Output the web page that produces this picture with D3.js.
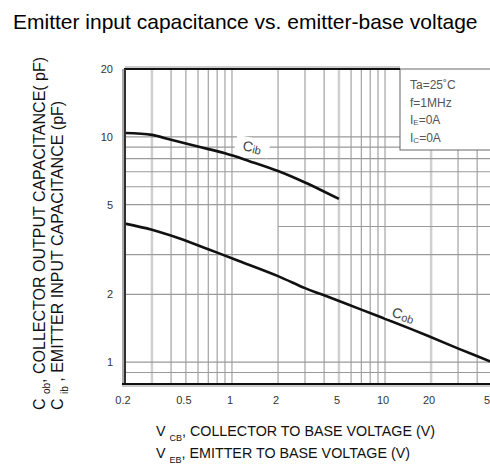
<!DOCTYPE html>
<html><head><meta charset="utf-8">
<script src="https://cdn.jsdelivr.net/npm/d3@7"></script>
<style>
body{margin:0;background:#fff}
svg{display:block}
text{font-family:"Liberation Sans",Arial,Helvetica,sans-serif}
</style>
</head><body>
<svg id="chart" width="490" height="465"></svg>
<script>
// ---- data ----
const cibV = [0.2, 0.3, 0.4, 0.6, 0.9, 1.3, 2, 3, 5];
const cibC = [10.4, 10.2, 9.7, 9.05, 8.45, 7.8, 7.05, 6.27, 5.3];
const cobV = [0.2, 0.3, 0.45, 0.7, 1.1, 2, 3, 4, 7, 11, 19, 31, 50];
const cobC = [4.12, 3.87, 3.55, 3.17, 2.82, 2.41, 2.13, 1.98, 1.71, 1.52, 1.31, 1.14, 1.0];
const xTicks = [0.2, 0.5, 1, 2, 5, 10, 20, 50];
const xTickLabels = ["0.2", "0.5", "1", "2", "5", "10", "20", "50"];
const yTicks = [1, 2, 5, 10, 20];
const yTickLabels = ["1", "2", "5", "10", "20"];
const xGrid = [0.3, 0.4, 0.5, 0.6, 0.7, 0.8, 0.9, 1, 2, 3, 4, 5, 6, 7, 8, 9, 10, 20, 30, 40];
const xGridLight = [0.3, 5, 20];
const yGrid = [0.9, 1, 2, 3, 5, 6, 7, 8, 9, 10];
const yGridFrom2V = [4];
const title = "Emitter input capacitance vs. emitter-base voltage";
const conditions = [["Ta=25˚C", "", ""], ["f=1MHz", "", ""], ["I", "E", "=0A"], ["I", "C", "=0A"]];

const svg = d3.select("#chart");
const x = d3.scaleLog().domain([0.2, 50]).range([125, 492]);
const y = d3.scaleLog().domain([0.8, 20]).range([384, 69]);
const [x0, x1] = x.range();
const [yb, yt] = y.range();

// title
svg.append("text").attr("x", 13).attr("y", 29).attr("font-size", 21).attr("fill", "#000").text(title);

// grid
const g = svg.append("g");
g.selectAll("line.vx").data(xGrid).join("line")
  .attr("x1", d => x(d)).attr("x2", d => x(d)).attr("y1", yt).attr("y2", yb)
  .attr("stroke", d => xGridLight.includes(d) ? "#cfcfcf" : "#9a9a9a")
  .attr("stroke-width", d => xGridLight.includes(d) ? 2.5 : 1.1);
g.selectAll("line.hy").data(yGrid).join("line")
  .attr("x1", x0).attr("x2", 490).attr("y1", d => y(d)).attr("y2", d => y(d))
  .attr("stroke", "#9a9a9a").attr("stroke-width", 1.1);
g.selectAll("line.hy4").data(yGridFrom2V).join("line")
  .attr("x1", x(2)).attr("x2", 490).attr("y1", d => y(d)).attr("y2", d => y(d))
  .attr("stroke", "#9a9a9a").attr("stroke-width", 1.1);

// conditions box
svg.append("rect").attr("x", 400).attr("y", yt).attr("width", 100).attr("height", 81)
  .attr("fill", "#fff").attr("stroke", "#666").attr("stroke-width", 1);
const cond = svg.append("g").attr("font-size", 12).attr("fill", "#555");
conditions.forEach((c, i) => {
  const t = cond.append("text").attr("x", 410).attr("y", 89 + i * 17.5);
  t.append("tspan").text(c[0]);
  if (c[1]) t.append("tspan").attr("font-size", 8).attr("dy", 1).text(c[1]);
  if (c[2]) t.append("tspan").attr("dy", c[1] ? -1 : 0).text(c[2]);
});

// curves
const line = d3.line().x(d => x(d[0])).y(d => y(d[1])).curve(d3.curveCatmullRom.alpha(0.5));
svg.append("path").datum(d3.zip(cibV, cibC)).attr("d", line)
  .attr("fill", "none").attr("stroke", "#111").attr("stroke-width", 2.6);
svg.append("path").datum(d3.zip(cobV, cobC)).attr("d", line)
  .attr("fill", "none").attr("stroke", "#111").attr("stroke-width", 2.6);

// curve labels
function curveLabel(cx, cy, ang, main, sub) {
  const gl = svg.append("g").attr("transform", `translate(${cx},${cy}) rotate(${ang})`);
  gl.append("rect").attr("x", -17).attr("y", -10).attr("width", 34).attr("height", 17).attr("fill", "#fff");
  const t = gl.append("text").attr("text-anchor", "middle").attr("y", 4).attr("font-size", 14).attr("fill", "#444");
  t.append("tspan").text(main);
  t.append("tspan").attr("font-size", 11).attr("dy", 1).text(sub);
}
curveLabel(252, 148, 12, "C", "ib");
curveLabel(403, 316, 18, "C", "ob");

// frame
svg.append("line").attr("x1", x0).attr("x2", 400).attr("y1", yt - 2).attr("y2", yt - 2).attr("stroke", "#ccc").attr("stroke-width", 2);
svg.append("line").attr("x1", x0 - 1).attr("x2", 400).attr("y1", yt).attr("y2", yt).attr("stroke", "#111").attr("stroke-width", 2);
svg.append("line").attr("x1", x0 - 1).attr("x2", x0 - 1).attr("y1", yt).attr("y2", yb + 2).attr("stroke", "#aaa").attr("stroke-width", 4);
svg.append("line").attr("x1", x0).attr("x2", x0).attr("y1", yt).attr("y2", yb).attr("stroke", "#111").attr("stroke-width", 1.6);
svg.append("line").attr("x1", x0 - 3).attr("x2", 490).attr("y1", yb + 2).attr("y2", yb + 2).attr("stroke", "#ccc").attr("stroke-width", 2);
svg.append("line").attr("x1", x0 - 3).attr("x2", 490).attr("y1", yb).attr("y2", yb).attr("stroke", "#111").attr("stroke-width", 2);

// tick labels
svg.append("g").attr("font-size", 11).attr("fill", "#333").attr("text-anchor", "middle")
  .selectAll("text").data(xTicks).join("text")
  .attr("x", d => x(d) - 2).attr("y", 404).text((d, i) => xTickLabels[i]);
svg.append("g").attr("font-size", 11).attr("fill", "#333").attr("text-anchor", "end")
  .selectAll("text").data(yTicks).join("text")
  .attr("x", 113).attr("y", d => y(d) + 4).text((d, i) => yTickLabels[i]);

// x axis titles
function xTitle(yy, sub, rest) {
  const t = svg.append("text").attr("x", 156).attr("y", yy).attr("font-size", 14.3).attr("fill", "#111");
  t.append("tspan").text("V ");
  t.append("tspan").attr("font-size", 9).attr("dy", 5).text(sub);
  t.append("tspan").attr("dy", -5).text(rest);
}
xTitle(436, "CB", ", COLLECTOR TO BASE VOLTAGE (V)");
xTitle(458, "EB", ", EMITTER TO BASE VOLTAGE (V)");

// y axis titles
function yTitle(xx, sub, rest) {
  const t = svg.append("text").attr("transform", `translate(${xx},410) rotate(-90)`).attr("font-size", 16).attr("fill", "#111");
  t.append("tspan").text("C ");
  t.append("tspan").attr("font-size", 10).attr("dy", 5).text(sub);
  t.append("tspan").attr("dy", -5).text(rest);
}
yTitle(45, "ob", ", COLLECTOR OUTPUT CAPACITANCE( pF)");
yTitle(63, "ib", " , EMITTER INPUT CAPACITANCE (pF)");
</script>
</body></html>
